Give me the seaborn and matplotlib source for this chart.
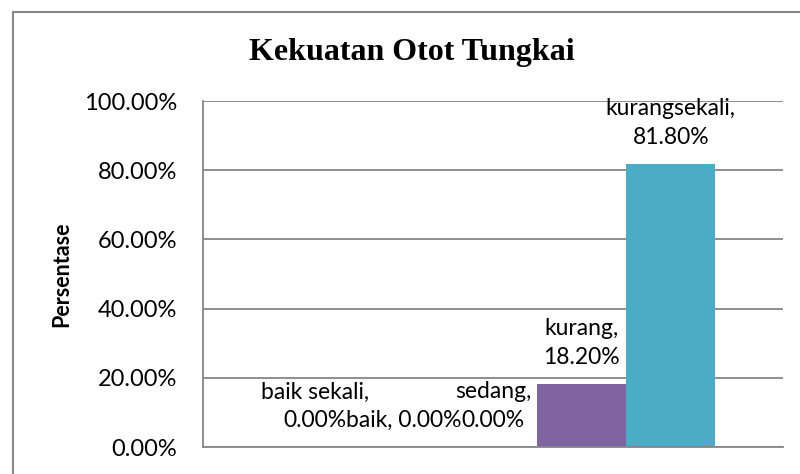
import matplotlib
matplotlib.use("Agg")
import matplotlib.pyplot as plt
import seaborn as sns
from matplotlib.patches import Rectangle
from matplotlib.ticker import FuncFormatter

# data
categories = ["baik sekali", "baik", "sedang", "kurang", "kurangsekali"]
values = [0.0, 0.0, 0.0, 18.2, 81.8]
colors = ["#4F81BD", "#C0504D", "#9BBB59", "#8064A2", "#4BACC6"]
label_breaks = ["\n", " ", "\n", "\n", "\n"]
y_ticks = [0, 20, 40, 60, 80, 100]

sns.set_style("white")
plt.rcParams['font.family'] = ['Lato', 'DejaVu Sans']
plt.rcParams['text.color'] = 'black'

fig = plt.figure(figsize=(8, 4.74), dpi=100)
ax = fig.add_axes([203/800, 27/474, 580/800, 346/474])

sns.barplot(x=categories, y=values, hue=categories, palette=colors,
            width=1, legend=False, saturation=1, linewidth=0, ax=ax)

ax.set_xlim(-1.264, 5.264)
ax.set_ylim(0, 100)
ax.set_yticks(y_ticks)
ax.yaxis.set_major_formatter(FuncFormatter(lambda v, p: f"{v:.2f}%"))
ax.set_xticks([])
ax.set_xlabel("")
ax.set_ylabel("")
ax.tick_params(axis="y", length=0, pad=18.5, labelsize=17, colors="black")
ax.grid(axis="y", color="#868686", linewidth=1.3)
ax.set_axisbelow(True)
for side in ["top", "right"]:
    ax.spines[side].set_visible(False)
for side in ["left", "bottom"]:
    ax.spines[side].set_color("#868686")
    ax.spines[side].set_linewidth(1.3)

# data labels "category, value%"
for i, (cat, val) in enumerate(zip(categories, values)):
    ax.annotate(f"{cat},{label_breaks[i]}{val:.2f}%", xy=(i, val),
                xytext=(0, 16), textcoords="offset pixels",
                ha="center", va="bottom", multialignment="center",
                fontsize=16.5, linespacing=1.45, color="black",
                annotation_clip=False)

fig.text(412/800, 1 - 60/474, "Kekuatan Otot Tungkai", ha="center", va="baseline",
         fontsize=23, fontweight="bold", family="Liberation Serif", color="black")
fig.text(62/800, 1 - 274/474, "Persentase", rotation=90, ha="center", va="center",
         fontsize=15.5, fontweight="bold", color="black")

# outer chart frame (cut by the image edge on the right and bottom)
fig.patches.append(Rectangle((13/800, -0.2), 1.5, 0.2 + 1 - 12/474,
                             transform=fig.transFigure, fill=False,
                             edgecolor="#888888", linewidth=1.5))

plt.savefig("out.png", dpi=100)
